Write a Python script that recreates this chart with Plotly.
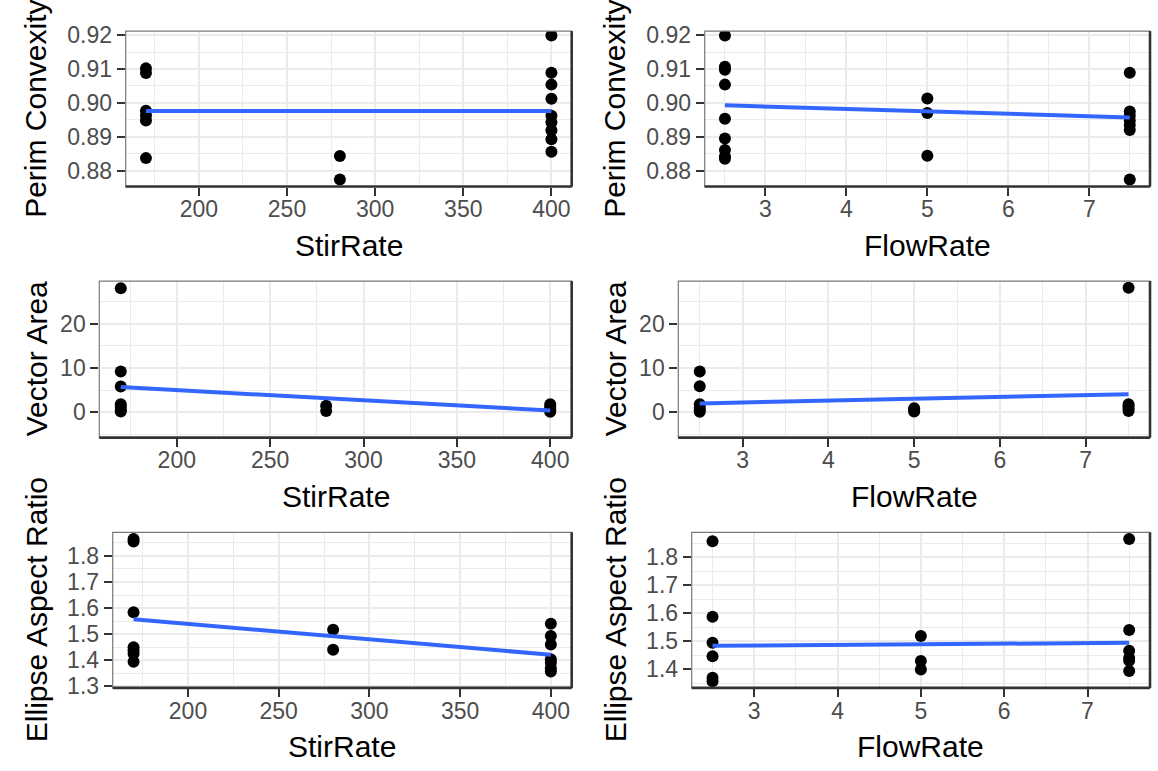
import plotly.graph_objects as go

# ---- measured data -------------------------------------------------------
# Perim Convexity vs StirRate
stir_perim = [170, 170, 170, 170, 170, 170, 280, 280,
              400, 400, 400, 400, 400, 400, 400, 400, 400]
perim_by_stir = [0.9102, 0.9088, 0.8977, 0.8963, 0.8948, 0.8837, 0.8843, 0.8774,
                 0.9199, 0.9089, 0.9054, 0.9012, 0.8962, 0.8943, 0.8919, 0.8893, 0.8856]

# Perim Convexity vs FlowRate
flow_perim = [2.5, 2.5, 2.5, 2.5, 2.5, 2.5, 2.5, 2.5, 2.5,
              5.0, 5.0, 5.0,
              7.5, 7.5, 7.5, 7.5, 7.5, 7.5, 7.5]
perim_by_flow = [0.9199, 0.9107, 0.9098, 0.9054, 0.8953, 0.8895, 0.8861, 0.8842, 0.8835,
                 0.9013, 0.8970, 0.8844,
                 0.9089, 0.8975, 0.8962, 0.8948, 0.8935, 0.8920, 0.8774]

# Vector Area vs StirRate
stir_area = [170, 170, 170, 170, 170, 170, 170, 280, 280,
             400, 400, 400, 400, 400]
area_by_stir = [28.0, 9.2, 5.8, 1.8, 1.2, 0.6, 0.2, 1.5, 0.3,
                1.8, 1.2, 0.8, 0.4, 0.1]

# Vector Area vs FlowRate
flow_area = [2.5, 2.5, 2.5, 2.5, 2.5, 2.5, 5.0, 5.0, 5.0,
             7.5, 7.5, 7.5, 7.5, 7.5]
area_by_flow = [9.2, 5.9, 1.8, 1.0, 0.5, 0.1, 0.9, 0.5, 0.2,
                28.1, 1.8, 1.3, 0.8, 0.3]

# Ellipse Aspect Ratio vs StirRate
stir_ellipse = [170, 170, 170, 170, 170, 170, 170, 280, 280,
                400, 400, 400, 400, 400, 400, 400]
ellipse_by_stir = [1.865, 1.855, 1.584, 1.450, 1.437, 1.425, 1.394, 1.517, 1.440,
                   1.540, 1.493, 1.460, 1.404, 1.390, 1.369, 1.357]

# Ellipse Aspect Ratio vs FlowRate
flow_ellipse = [2.5, 2.5, 2.5, 2.5, 2.5, 2.5, 5.0, 5.0, 5.0,
                7.5, 7.5, 7.5, 7.5, 7.5, 7.5]
ellipse_by_flow = [1.856, 1.587, 1.494, 1.446, 1.369, 1.357, 1.518, 1.429, 1.399,
                   1.864, 1.540, 1.466, 1.440, 1.430, 1.393]

# linear-fit values at the ends of each x range
fit_x_stir = [170, 400]
fit_x_flow = [2.5, 7.5]
fit_perim_stir = [0.8976, 0.8976]
fit_perim_flow = [0.8993, 0.8957]
fit_area_stir = [5.7, 0.4]
fit_area_flow = [2.0, 4.1]
fit_ellipse_stir = [1.557, 1.421]
fit_ellipse_flow = [1.483, 1.494]

# axis ticks
stir_ticks = [200, 250, 300, 350, 400]
stir_minor = [175, 225, 275, 325, 375]
flow_ticks = [3, 4, 5, 6, 7]
flow_minor = [2.5, 3.5, 4.5, 5.5, 6.5, 7.5]
perim_ticks = [0.88, 0.89, 0.90, 0.91, 0.92]
perim_tick_text = ["0.88", "0.89", "0.90", "0.91", "0.92"]
perim_minor = [0.875, 0.885, 0.895, 0.905, 0.915]
area_ticks = [0, 10, 20]
area_minor = [-5, 5, 15, 25]
ellipse_ticks_a = [1.3, 1.4, 1.5, 1.6, 1.7, 1.8]
ellipse_ticks_b = [1.4, 1.5, 1.6, 1.7, 1.8]
ellipse_minor = [1.35, 1.45, 1.55, 1.65, 1.75, 1.85]

# ---- layout geometry (pixels) -------------------------------------------
W, H = 1158, 771
FONT = "Liberation Sans, Arial, Helvetica, sans-serif"
TICK_FONT = 23
TITLE_FONT = 30

panels = [
    dict(x=stir_perim, y=perim_by_stir, fx=fit_x_stir, fy=fit_perim_stir,
         px=(125.7, 571.7), py=(22.7, 182.3),
         xr=[158.5, 411.5], xt=stir_ticks, xm=stir_minor,
         yr=[0.8753, 0.9212], yt=perim_ticks, ytt=perim_tick_text, ym=perim_minor,
         xtitle="StirRate", ytitle="Perim Convexity"),
    dict(x=flow_perim, y=perim_by_flow, fx=fit_x_flow, fy=fit_perim_flow,
         px=(704.7, 1150.0), py=(22.7, 182.3),
         xr=[2.25, 7.75], xt=flow_ticks, xm=flow_minor,
         yr=[0.8753, 0.9212], yt=perim_ticks, ytt=perim_tick_text, ym=perim_minor,
         xtitle="FlowRate", ytitle="Perim Convexity"),
    dict(x=stir_area, y=area_by_stir, fx=fit_x_stir, fy=fit_area_stir,
         px=(99.3, 571.7), py=(279.3, 440.0),
         xr=[158.5, 411.5], xt=stir_ticks, xm=stir_minor,
         yr=[-5.7, 29.6], yt=area_ticks, ytt=None, ym=area_minor,
         xtitle="StirRate", ytitle="Vector Area"),
    dict(x=flow_area, y=area_by_flow, fx=fit_x_flow, fy=fit_area_flow,
         px=(678.3, 1150.0), py=(279.3, 440.0),
         xr=[2.25, 7.75], xt=flow_ticks, xm=flow_minor,
         yr=[-5.7, 29.6], yt=area_ticks, ytt=None, ym=area_minor,
         xtitle="FlowRate", ytitle="Vector Area"),
    dict(x=stir_ellipse, y=ellipse_by_stir, fx=fit_x_stir, fy=fit_ellipse_stir,
         px=(112.7, 571.7), py=(537.3, 697.0),
         xr=[158.5, 411.5], xt=stir_ticks, xm=stir_minor,
         yr=[1.294, 1.890], yt=ellipse_ticks_a, ytt=None, ym=ellipse_minor,
         xtitle="StirRate", ytitle="Ellipse Aspect Ratio"),
    dict(x=flow_ellipse, y=ellipse_by_flow, fx=fit_x_flow, fy=fit_ellipse_flow,
         px=(691.7, 1150.0), py=(537.3, 697.0),
         xr=[2.25, 7.75], xt=flow_ticks, xm=flow_minor,
         yr=[1.333, 1.888], yt=ellipse_ticks_b, ytt=None, ym=ellipse_minor,
         xtitle="FlowRate", ytitle="Ellipse Aspect Ratio"),
]

fig = go.Figure()
shapes = []
annotations = []
layout = {}

GRID = "#EBEBEB"
TICKC = "#333333"

for i, p in enumerate(panels, start=1):
    sfx = "" if i == 1 else str(i)
    xa, ya = "x" + sfx, "y" + sfx

    fig.add_trace(go.Scatter(x=p["x"], y=p["y"], mode="markers",
                             marker=dict(color="black", size=12),
                             xaxis=xa, yaxis=ya, showlegend=False))
    fig.add_trace(go.Scatter(x=p["fx"], y=p["fy"], mode="lines",
                             line=dict(color="#3366FF", width=4),
                             xaxis=xa, yaxis=ya, showlegend=False))

    x0, x1 = p["px"]
    y0, y1 = p["py"]
    common = dict(showgrid=True, gridcolor=GRID, gridwidth=1.6, zeroline=False,
                  showline=False, ticks="outside", ticklen=8, tickwidth=1.8,
                  tickcolor=TICKC,
                  tickfont=dict(family=FONT, size=TICK_FONT, color="#4D4D4D"))
    layout["xaxis" + sfx] = dict(
        domain=[x0 / W, x1 / W], anchor=ya, range=p["xr"],
        tickmode="array", tickvals=p["xt"], ticklabelstandoff=-6,
        minor=dict(tickmode="array", tickvals=p["xm"], showgrid=True,
                   gridcolor=GRID, gridwidth=0.9, ticks=""),
        **common)
    ydict = dict(
        domain=[1 - y1 / H, 1 - y0 / H], anchor=xa, range=p["yr"],
        tickmode="array", tickvals=p["yt"],
        minor=dict(tickmode="array", tickvals=p["ym"], showgrid=True,
                   gridcolor=GRID, gridwidth=0.9, ticks=""),
        **common)
    if p["ytt"] is not None:
        ydict["ticktext"] = p["ytt"]
    layout["yaxis" + sfx] = ydict

    # panel frame: light top/left, dark bottom/right
    dref = dict(xref=xa + " domain", yref=ya + " domain")
    shapes.append(dict(type="rect", x0=0, x1=1, y0=0, y1=1,
                       line=dict(color="#7A7A7A", width=1.2), **dref))
    shapes.append(dict(type="line", x0=0, x1=1, y0=0, y1=0,
                       line=dict(color="#333333", width=2.6), **dref))
    shapes.append(dict(type="line", x0=1, x1=1, y0=0, y1=1,
                       line=dict(color="#333333", width=2.6), **dref))

    # axis titles
    cell_left = 0 if i % 2 == 1 else 579
    annotations.append(dict(
        text=p["ytitle"], textangle=-90, showarrow=False,
        xref="paper", yref="paper",
        x=(cell_left + 36) / W, y=1 - ((y0 + y1) / 2) / H,
        xanchor="center", yanchor="middle",
        font=dict(family=FONT, size=TITLE_FONT, color="black")))
    annotations.append(dict(
        text=p["xtitle"], showarrow=False,
        xref="paper", yref="paper",
        x=((x0 + x1) / 2) / W, y=1 - (y1 + 60) / H,
        xanchor="center", yanchor="middle",
        font=dict(family=FONT, size=TITLE_FONT, color="black")))

fig.update_layout(
    width=W, height=H,
    margin=dict(l=0, r=0, t=0, b=0),
    paper_bgcolor="white", plot_bgcolor="white",
    shapes=shapes, annotations=annotations,
    showlegend=False,
    **layout,
)

fig.write_html("out.html")
